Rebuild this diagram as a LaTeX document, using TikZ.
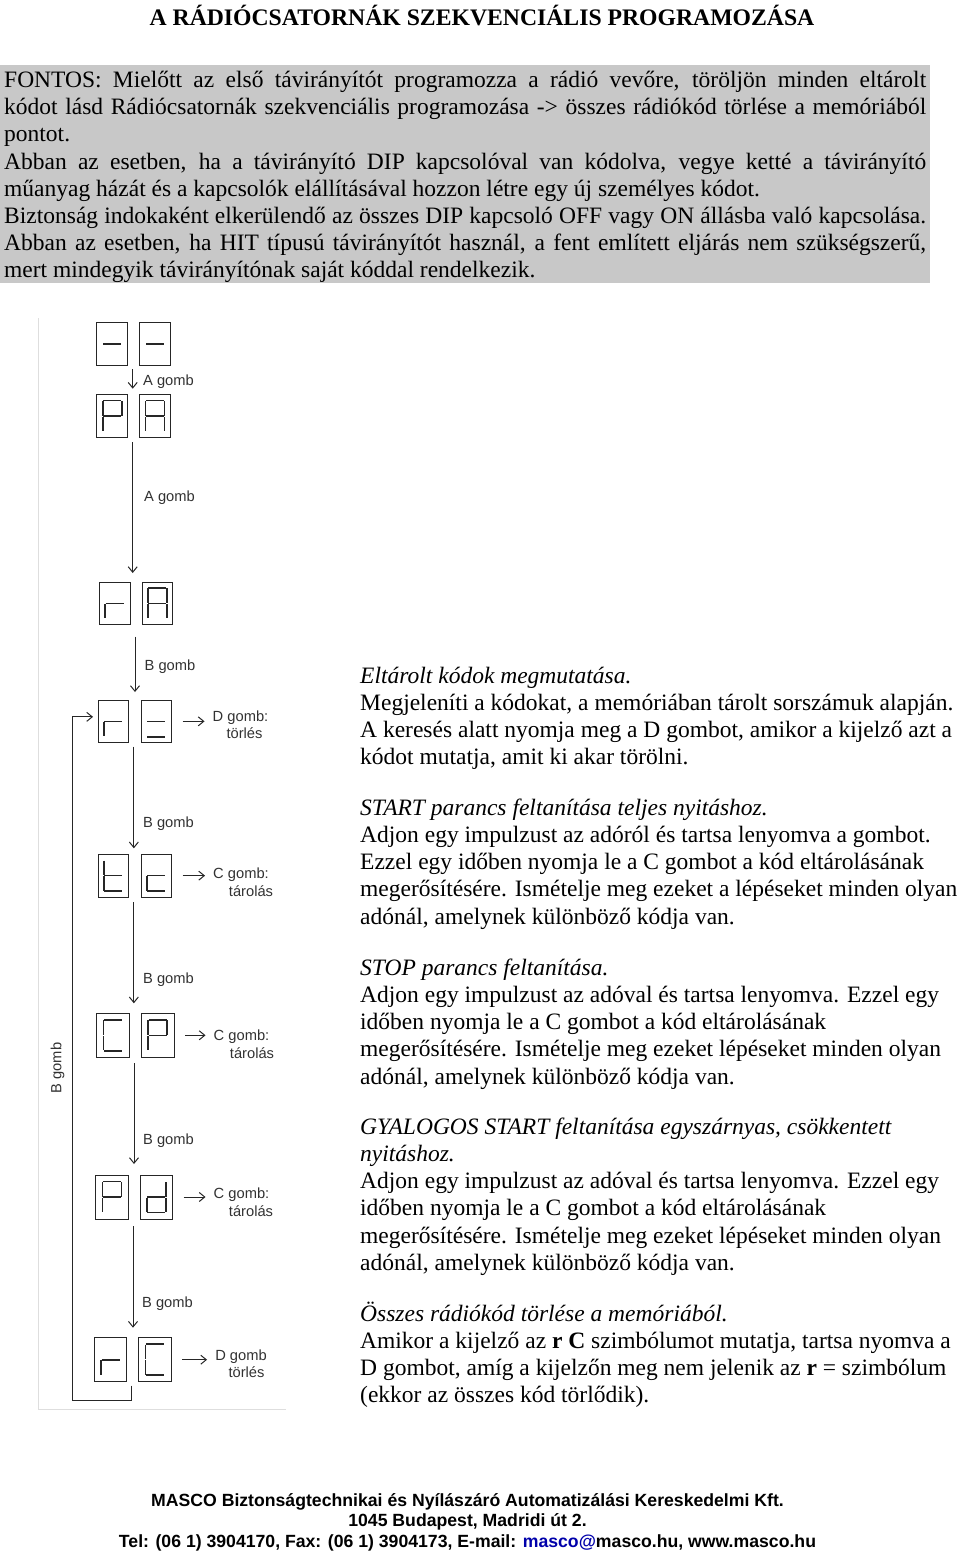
\documentclass[tikz,border=0pt]{standalone}
\usepackage{fontspec}
\setmainfont{Liberation Serif}
\newfontfamily\arial{Liberation Sans}
\usetikzlibrary{arrows.meta}
\definecolor{fontosszurke}{RGB}{200,200,200}
\definecolor{keretszurke}{RGB}{222,222,222}
\definecolor{felirat}{RGB}{50,50,50}
\definecolor{emailkek}{RGB}{0,0,170}
\tikzset{
  kijelzo/.style={draw=black!85,line width=1pt,inner sep=0pt,outer sep=0pt},
  szegmens/.style={line width=1.6pt,black!85},
  lepes/.style={line width=1pt,black!85,->},
  gombfelirat/.style={font=\arial\fontsize{14.7}{16}\selectfont,text=felirat,inner sep=0pt},
  leiras/.style={anchor=north west,align=left,inner sep=0pt,font=\fontsize{23.5}{27.2}\selectfont},
}
\begin{document}
\begin{tikzpicture}[x=1pt,y=-1pt,>={Straight Barb[length=5.5pt,width=9pt]}]
\useasboundingbox (0,0) rectangle (960,1558);
% cim
\node[inner sep=0pt,font=\bfseries\fontsize{23.7}{26}\selectfont] (cim) at (482,15.5)
  {A RÁDIÓCSATORNÁK SZEKVENCIÁLIS PROGRAMOZÁSA};
% szurke doboz
\fill[fontosszurke] (0,65) rectangle (930,283);
\node[anchor=north west,inner xsep=4pt,inner ysep=0pt,text width=922pt,
  align=justify,font=\fontsize{23.5}{27.2}\selectfont] (fontos) at (0,71) {%
FONTOS: Mielőtt az első távirányítót programozza a rádió vevőre, töröljön minden eltárolt\linebreak
kódot lásd Rádiócsatornák szekvenciális programozása -> összes rádiókód törlése a memóriából\linebreak
pontot.\\
Abban az esetben, ha a távirányító DIP kapcsolóval van kódolva, vegye ketté a távirányító\linebreak
műanyag házát és a kapcsolók elállításával hozzon létre egy új személyes kódot.\\
Biztonság indokaként elkerülendő az összes DIP kapcsoló OFF vagy ON állásba való kapcsolása.\linebreak
Abban az esetben, ha HIT típusú távirányítót használ, a fent említett eljárás nem szükségszerű,\linebreak
mert mindegyik távirányítónak saját kóddal rendelkezik.};
% keret
\draw[keretszurke,line width=1.2pt] (38.3,318) |- (286,1409.5);
% szegmensek
\def\sega{(-9,-15.5) -- (9,-15.5)}
\def\segb{(9.5,-15) -- (9.5,-0.5)}
\def\segc{(9.5,0.5) -- (9.5,15)}
\def\segd{(-9,15.5) -- (9,15.5)}
\def\sege{(-9.5,0.5) -- (-9.5,15)}
\def\segf{(-9.5,-15) -- (-9.5,-0.5)}
\def\segg{(-9,0) -- (9,0)}
% kijelzok (sor nev / bal doboz x / jobb doboz x / y / jelek)
\foreach \nev/\xa/\xb/\xc/\xd/\ya/\yb/\bal/\jobb in {
  vv/96.7/127.7/139.7/170.3/322.7/365/{g}/{g},
  pa/96.7/127.7/139.7/170.3/394.7/437.3/{a,b,g,e,f}/{a,b,c,e,f,g},
  ra/99/130/142/172.7/582/624.7/{e,g}/{a,b,c,e,f,g},
  rk/98/128.7/141/171.7/700/742.7/{e,g}/{g,d},
  tc/98/128.7/141/171.7/854.3/897/{f,e,g,d}/{e,g,d},
  cp/96.7/129/141/174/1013.3/1057.3/{a,f,e,d}/{a,b,g,e,f},
  pd/95.7/128/140/172.7/1175/1219/{a,b,g,e,f}/{b,c,g,e,d},
  rc/94.3/126.7/138.7/171.3/1337.7/1381.7/{e,g}/{a,f,e,d}}{
  \pgfmathsetmacro\wa{\xb-\xa}
  \pgfmathsetmacro\wb{\xd-\xc}
  \pgfmathsetmacro\wk{\xc-\xb}
  \pgfmathsetmacro\hh{\yb-\ya}
  \node[kijelzo,minimum width=\wa pt,minimum height=\hh pt] (\nev-a) at ({(\xa+\xb)/2},{(\ya+\yb)/2}) {};
  \node[kijelzo,minimum width=\wb pt,minimum height=\hh pt] (\nev-b) at ({(\xc+\xd)/2},{(\ya+\yb)/2}) {};
  \node[inner sep=0pt,outer sep=0pt,minimum width=\wk pt,minimum height=\hh pt] (\nev) at ({(\xb+\xc)/2},{(\ya+\yb)/2}) {};
  \foreach \s in \bal {\draw[szegmens,shift={(\nev-a.center)}] \csname seg\s\endcsname;}
  \foreach \s in \jobb {\draw[szegmens,shift={(\nev-b.center)}] \csname seg\s\endcsname;}
}
% lefele nyilak
\foreach \a/\b/\ki/\be in {vv/pa/4/6,pa/ra/5/9,ra/rk/12/8,rk/tc/4/6,tc/cp/5/10,cp/pd/6/11,pd/rc/7/10}{
  \draw[lepes,shorten <=\ki pt,shorten >=\be pt] ([xshift=-1pt]\a.south) -- ([xshift=-1pt]\a.south |- \b.north);
}
% gomb feliratok
\foreach \nev/\x/\y/\szoveg in {ga/168.5/382/A gomb,gb/169.5/498/A gomb,gc/170/667/B gomb,gd/168.5/824/B gomb,
  ge/168.5/980/B gomb,gf/168.5/1141/B gomb,gg/167.5/1304/B gomb,
  da/240.5/718/D gomb:,db/244.5/733/törlés,
  ca/241/875/C gomb:,cb/251/891/tárolás,
  cc/241.5/1037/C gomb:,cd/252/1053/tárolás,
  ce/241.5/1195/C gomb:,cf/251/1211/tárolás,
  dc/241/1357/D gomb,dd/246.5/1372/törlés}{
  \node[gombfelirat] (\nev) at (\x,\y) {\szoveg};
}
\node[gombfelirat,rotate=90] (oldal) at (57.5,1068) {B gomb};
% oldalso nyilak
\foreach \s/\c in {rk/da,tc/ca,cp/cc,pd/ce,rc/dc}{
  \draw[lepes,shorten <=11pt,shorten >=8pt] (\s-b.east) -- (\s-b.east -| \c.west);
}
% visszatero vonal
\coordinate (hurok) at (72.3,1400.7);
\draw[lepes,shorten <=4pt,shorten >=5pt] ([xshift=-1pt]rc.south) |- (hurok) |- ([yshift=4.5pt]rk-a.west);
% jobb oldali szoveg
\node[leiras] (elso) at (360,666.5) {\textit{Eltárolt kódok megmutatása.}\\
Megjeleníti a kódokat, a memóriában tárolt sorszámuk alapján.\\
A keresés alatt nyomja meg a D gombot, amikor a kijelző azt a\\
kódot mutatja, amit ki akar törölni.};
\node[leiras] (masodik) at (360,798.5) {\textit{START parancs feltanítása teljes nyitáshoz.}\\
Adjon egy impulzust az adóról és tartsa lenyomva a gombot.\\
Ezzel egy időben nyomja le a C gombot a kód eltárolásának\\
megerősítésére. Ismételje meg ezeket a lépéseket minden olyan\\
adónál, amelynek különböző kódja van.};
\node[leiras] (harmadik) at (360,958.5) {\textit{STOP parancs feltanítása.}\\
Adjon egy impulzust az adóval és tartsa lenyomva. Ezzel egy\\
időben nyomja le a C gombot a kód eltárolásának\\
megerősítésére. Ismételje meg ezeket lépéseket minden olyan\\
adónál, amelynek különböző kódja van.};
\node[leiras] (negyedik) at (360,1117.5) {\textit{GYALOGOS START feltanítása egyszárnyas, csökkentett}\\
\textit{nyitáshoz.}\\
Adjon egy impulzust az adóval és tartsa lenyomva. Ezzel egy\\
időben nyomja le a C gombot a kód eltárolásának\\
megerősítésére. Ismételje meg ezeket lépéseket minden olyan\\
adónál, amelynek különböző kódja van.};
\node[leiras] (otodik) at (360,1301.5) {\textit{Összes rádiókód törlése a memóriából.}\\
Amikor a kijelző az \textbf{r C} szimbólumot mutatja, tartsa nyomva a\\
D gombot, amíg a kijelzőn meg nem jelenik az \textbf{r} = szimbólum\\
(ekkor az összes kód törlődik).};
% lablec
\node[align=center,inner sep=0pt,font=\arial\bfseries\fontsize{17.65}{20.5}\selectfont] (lablec) at (467.5,1522)
  {MASCO Biztonságtechnikai és Nyílászáró Automatizálási Kereskedelmi Kft.\\
  1045 Budapest, Madridi út 2.\\
  Tel: (06 1) 3904170, Fax: (06 1) 3904173, E-mail: \textcolor{emailkek}{masco@}masco.hu, www.masco.hu};
\end{tikzpicture}
\end{document}
